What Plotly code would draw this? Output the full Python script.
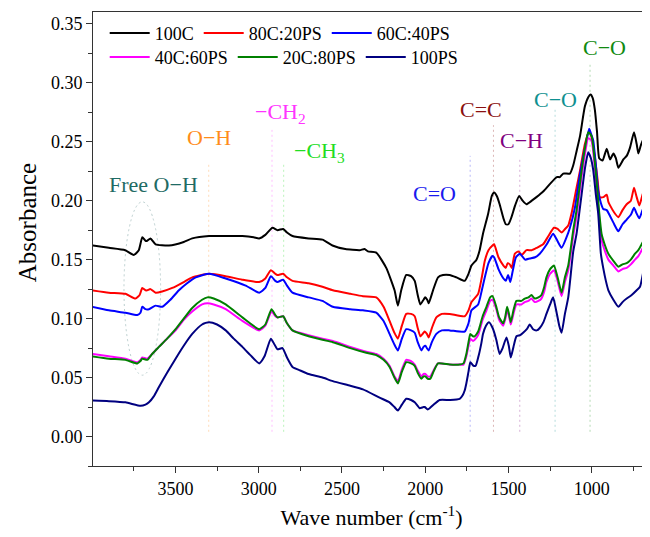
import plotly.graph_objects as go

# ---------------- data ----------------
wn_100C = [4000, 3900, 3802, 3750, 3720, 3699, 3680, 3669, 3650, 3619, 3539, 3450, 3399, 3298, 3200, 3098, 3030, 2997, 2960, 2917, 2887, 2853, 2830, 2797, 2700, 2617, 2557, 2480, 2394, 2364, 2344, 2294, 2234, 2184, 2164, 2144, 2114, 2085, 2063, 2045, 2029, 2010, 2000, 1988, 1979, 1953, 1923, 1893, 1853, 1813, 1763, 1740, 1722, 1692, 1673, 1653, 1622, 1600, 1586, 1570, 1553, 1530, 1516, 1500, 1482, 1460, 1436, 1415, 1392, 1360, 1332, 1290, 1252, 1210, 1191, 1171, 1131, 1111, 1091, 1070, 1041, 1020, 1007, 994, 981, 968, 955, 935, 910, 890, 870, 855, 840, 810, 790, 770, 746, 730, 720, 705, 690, 670, 650]
ab_100C = [0.162, 0.160, 0.158, 0.154, 0.158, 0.169, 0.166, 0.166, 0.168, 0.163, 0.162, 0.165, 0.168, 0.170, 0.170, 0.170, 0.169, 0.168, 0.171, 0.177, 0.175, 0.176, 0.173, 0.170, 0.168, 0.167, 0.162, 0.159, 0.158, 0.159, 0.157, 0.156, 0.143, 0.124, 0.111, 0.124, 0.137, 0.136, 0.132, 0.120, 0.112, 0.116, 0.118, 0.116, 0.113, 0.124, 0.135, 0.137, 0.137, 0.135, 0.132, 0.138, 0.145, 0.150, 0.158, 0.172, 0.189, 0.204, 0.207, 0.204, 0.197, 0.185, 0.180, 0.180, 0.186, 0.196, 0.204, 0.200, 0.197, 0.200, 0.203, 0.208, 0.214, 0.220, 0.220, 0.223, 0.223, 0.230, 0.242, 0.255, 0.280, 0.288, 0.290, 0.287, 0.277, 0.258, 0.236, 0.234, 0.244, 0.235, 0.240, 0.236, 0.228, 0.235, 0.238, 0.245, 0.258, 0.248, 0.240, 0.247, 0.252, 0.250, 0.249]

wn_80C = [4000, 3900, 3800, 3740, 3715, 3699, 3680, 3669, 3650, 3619, 3580, 3519, 3450, 3399, 3298, 3198, 3100, 2997, 2960, 2927, 2900, 2887, 2853, 2830, 2797, 2700, 2617, 2555, 2450, 2374, 2294, 2250, 2214, 2185, 2164, 2140, 2114, 2085, 2063, 2045, 2029, 2010, 2003, 1990, 1979, 1960, 1933, 1900, 1853, 1763, 1740, 1722, 1682, 1660, 1642, 1620, 1596, 1586, 1560, 1530, 1516, 1505, 1492, 1480, 1462, 1440, 1420, 1392, 1360, 1330, 1292, 1260, 1227, 1205, 1181, 1160, 1141, 1120, 1091, 1071, 1041, 1017, 1005, 990, 981, 965, 951, 930, 910, 900, 890, 865, 840, 815, 790, 765, 746, 730, 714, 695, 680, 650]
ab_80C = [0.124, 0.122, 0.121, 0.117, 0.120, 0.126, 0.124, 0.124, 0.125, 0.122, 0.123, 0.126, 0.131, 0.135, 0.138, 0.136, 0.133, 0.131, 0.134, 0.141, 0.138, 0.137, 0.138, 0.135, 0.132, 0.130, 0.127, 0.124, 0.121, 0.119, 0.118, 0.110, 0.098, 0.088, 0.083, 0.094, 0.104, 0.104, 0.102, 0.092, 0.085, 0.088, 0.089, 0.087, 0.084, 0.092, 0.101, 0.104, 0.104, 0.102, 0.107, 0.114, 0.121, 0.135, 0.149, 0.158, 0.162, 0.163, 0.152, 0.145, 0.143, 0.147, 0.146, 0.143, 0.155, 0.157, 0.154, 0.158, 0.158, 0.160, 0.163, 0.170, 0.177, 0.176, 0.173, 0.176, 0.179, 0.190, 0.211, 0.225, 0.248, 0.258, 0.256, 0.245, 0.237, 0.218, 0.203, 0.203, 0.205, 0.199, 0.196, 0.190, 0.186, 0.192, 0.197, 0.200, 0.211, 0.203, 0.196, 0.205, 0.210, 0.211]

wn_60C = [4000, 3900, 3800, 3729, 3710, 3699, 3680, 3659, 3619, 3579, 3530, 3479, 3430, 3378, 3298, 3198, 3078, 2997, 2960, 2927, 2900, 2887, 2853, 2830, 2797, 2700, 2617, 2555, 2450, 2374, 2294, 2250, 2214, 2185, 2164, 2140, 2114, 2085, 2063, 2045, 2023, 2010, 1999, 1990, 1979, 1960, 1933, 1900, 1853, 1763, 1740, 1722, 1682, 1660, 1642, 1620, 1596, 1586, 1560, 1530, 1516, 1502, 1489, 1475, 1455, 1432, 1400, 1372, 1340, 1312, 1270, 1232, 1210, 1181, 1151, 1131, 1101, 1071, 1051, 1030, 1015, 1000, 991, 975, 961, 945, 931, 910, 890, 865, 840, 815, 790, 765, 746, 730, 714, 695, 680, 650]
ab_60C = [0.110, 0.107, 0.105, 0.103, 0.105, 0.110, 0.108, 0.108, 0.111, 0.110, 0.116, 0.124, 0.130, 0.135, 0.138, 0.134, 0.128, 0.122, 0.126, 0.136, 0.132, 0.131, 0.133, 0.128, 0.122, 0.118, 0.115, 0.110, 0.108, 0.107, 0.105, 0.098, 0.087, 0.078, 0.073, 0.083, 0.091, 0.090, 0.088, 0.080, 0.073, 0.076, 0.077, 0.075, 0.073, 0.080, 0.087, 0.090, 0.090, 0.089, 0.096, 0.107, 0.112, 0.124, 0.135, 0.147, 0.153, 0.152, 0.142, 0.134, 0.132, 0.137, 0.131, 0.140, 0.152, 0.155, 0.150, 0.151, 0.152, 0.155, 0.163, 0.172, 0.167, 0.160, 0.169, 0.177, 0.194, 0.222, 0.237, 0.252, 0.261, 0.255, 0.251, 0.230, 0.208, 0.198, 0.193, 0.192, 0.187, 0.180, 0.174, 0.180, 0.184, 0.188, 0.194, 0.189, 0.185, 0.192, 0.197, 0.204]

wn_low = [4000, 3900, 3800, 3729, 3710, 3699, 3669, 3640, 3599, 3550, 3499, 3450, 3399, 3340, 3308, 3270, 3198, 3098, 2997, 2960, 2923, 2900, 2887, 2853, 2830, 2797, 2700, 2617, 2555, 2450, 2354, 2294, 2250, 2214, 2185, 2164, 2140, 2114, 2085, 2063, 2045, 2023, 2010, 1999, 1985, 1969, 1950, 1923, 1853, 1793, 1770, 1753, 1740, 1729, 1713, 1703, 1682, 1673, 1655, 1632, 1610, 1596, 1575, 1556, 1532, 1520, 1508, 1497, 1486, 1470, 1452, 1422, 1402, 1380, 1362, 1342, 1320, 1302, 1285, 1272, 1250, 1227, 1205, 1181, 1161, 1141, 1111, 1091, 1061, 1040, 1021, 1001, 985, 971, 955, 941, 920, 900, 870, 840, 815, 790, 765, 740, 720, 700, 675, 650]
ab_40C = [0.070, 0.068, 0.066, 0.063, 0.065, 0.067, 0.066, 0.070, 0.076, 0.083, 0.090, 0.099, 0.106, 0.112, 0.113, 0.112, 0.108, 0.098, 0.090, 0.094, 0.106, 0.102, 0.101, 0.102, 0.096, 0.090, 0.086, 0.083, 0.081, 0.076, 0.072, 0.070, 0.066, 0.060, 0.051, 0.047, 0.057, 0.065, 0.064, 0.061, 0.056, 0.051, 0.053, 0.053, 0.051, 0.051, 0.056, 0.062, 0.061, 0.061, 0.061, 0.068, 0.077, 0.083, 0.081, 0.082, 0.086, 0.090, 0.099, 0.107, 0.115, 0.116, 0.109, 0.099, 0.094, 0.099, 0.107, 0.102, 0.095, 0.104, 0.112, 0.112, 0.114, 0.115, 0.117, 0.114, 0.115, 0.117, 0.123, 0.131, 0.138, 0.141, 0.132, 0.119, 0.131, 0.141, 0.170, 0.187, 0.220, 0.240, 0.253, 0.251, 0.233, 0.212, 0.185, 0.167, 0.157, 0.150, 0.145, 0.140, 0.142, 0.143, 0.146, 0.150, 0.153, 0.158, 0.165, 0.176]
ab_20C = [0.068, 0.066, 0.065, 0.062, 0.064, 0.066, 0.065, 0.070, 0.076, 0.083, 0.091, 0.100, 0.109, 0.116, 0.118, 0.117, 0.112, 0.101, 0.091, 0.095, 0.108, 0.103, 0.101, 0.102, 0.096, 0.090, 0.085, 0.082, 0.080, 0.075, 0.071, 0.069, 0.065, 0.059, 0.050, 0.045, 0.055, 0.063, 0.062, 0.060, 0.054, 0.049, 0.051, 0.051, 0.049, 0.049, 0.055, 0.062, 0.061, 0.061, 0.062, 0.070, 0.080, 0.087, 0.085, 0.085, 0.089, 0.093, 0.102, 0.110, 0.118, 0.119, 0.111, 0.101, 0.096, 0.101, 0.110, 0.104, 0.097, 0.107, 0.115, 0.115, 0.117, 0.118, 0.120, 0.117, 0.118, 0.120, 0.127, 0.135, 0.142, 0.145, 0.135, 0.122, 0.135, 0.145, 0.175, 0.192, 0.225, 0.245, 0.258, 0.255, 0.238, 0.217, 0.190, 0.172, 0.162, 0.155, 0.149, 0.144, 0.146, 0.147, 0.150, 0.155, 0.158, 0.163, 0.170, 0.182]

wn_100PS = [4000, 3900, 3800, 3709, 3680, 3659, 3630, 3599, 3550, 3499, 3450, 3399, 3340, 3298, 3250, 3198, 3150, 3098, 3050, 2997, 2965, 2927, 2905, 2887, 2857, 2830, 2797, 2750, 2700, 2617, 2555, 2450, 2374, 2274, 2214, 2185, 2164, 2140, 2114, 2085, 2063, 2045, 2033, 2010, 2003, 1985, 1973, 1950, 1913, 1850, 1793, 1775, 1763, 1753, 1740, 1729, 1710, 1697, 1680, 1663, 1653, 1635, 1617, 1595, 1573, 1553, 1535, 1512, 1498, 1486, 1470, 1452, 1430, 1412, 1390, 1372, 1352, 1330, 1312, 1290, 1272, 1250, 1232, 1215, 1195, 1181, 1161, 1141, 1111, 1091, 1061, 1040, 1021, 1005, 991, 975, 961, 945, 931, 915, 900, 870, 840, 815, 790, 760, 730, 710, 690, 670, 650]
ab_100PS = [0.0305, 0.030, 0.029, 0.026, 0.027, 0.029, 0.034, 0.042, 0.054, 0.066, 0.077, 0.087, 0.095, 0.097, 0.095, 0.090, 0.083, 0.076, 0.069, 0.062, 0.068, 0.083, 0.078, 0.074, 0.075, 0.067, 0.059, 0.056, 0.053, 0.050, 0.047, 0.043, 0.040, 0.033, 0.029, 0.025, 0.022, 0.027, 0.032, 0.031, 0.029, 0.026, 0.024, 0.025, 0.025, 0.023, 0.024, 0.027, 0.031, 0.031, 0.032, 0.035, 0.039, 0.045, 0.055, 0.063, 0.060, 0.060, 0.068, 0.079, 0.087, 0.094, 0.097, 0.092, 0.082, 0.070, 0.075, 0.084, 0.077, 0.067, 0.076, 0.085, 0.086, 0.088, 0.091, 0.095, 0.091, 0.090, 0.092, 0.097, 0.104, 0.112, 0.118, 0.108, 0.094, 0.088, 0.104, 0.118, 0.157, 0.172, 0.205, 0.228, 0.241, 0.236, 0.226, 0.205, 0.189, 0.155, 0.143, 0.132, 0.124, 0.116, 0.110, 0.114, 0.117, 0.120, 0.124, 0.127, 0.140, 0.155, 0.177]

series_names = ["100C", "80C:20PS", "60C:40PS", "40C:60PS", "20C:80PS", "100PS"]
series_x = [wn_100C, wn_80C, wn_60C, wn_low, wn_low, wn_100PS]
series_y = [ab_100C, ab_80C, ab_60C, ab_40C, ab_20C, ab_100PS]
series_colors = ["#000000", "#ff0000", "#0000ff", "#ff00ff", "#008000", "#000080"]

# band annotations
band_labels = ["Free O\u2212H", "O\u2212H", "\u2212CH<sub>2</sub>", "\u2212CH<sub>3</sub>", "C=O", "C=C", "C\u2212H", "C\u2212O", "C\u2212O"]
band_label_x = [3629, 3298, 2869, 2635, 1943, 1663, 1422, 1215, 921]
band_label_y = [0.214, 0.254, 0.274, 0.241, 0.206, 0.277, 0.251, 0.286, 0.330]
band_colors = ["#1f6b64", "#ff8c1a", "#ff33ff", "#22dd22", "#1a1aee", "#8b1010", "#800080", "#0f9090", "#108a10"]
band_line_x = [None, 3300, 2920, 2850, 1730, 1590, 1432, 1220, 1010]
band_line_top = [None, 0.232, 0.260, 0.232, 0.238, 0.264, 0.237, 0.278, 0.316]
band_line_bottom = 0.004
free_oh_box = [3809, 3589, 0.052, 0.199]

FONT = "Liberation Serif"

fig = go.Figure()
for i, (nm, xs, ys, c) in enumerate(zip(series_names, series_x, series_y, series_colors)):
    fig.add_trace(go.Scatter(x=xs, y=ys, name=nm, mode="lines",
                             line=dict(color=c, width=2, shape="spline", smoothing=0.5),
                             legend="legend" if i < 3 else "legend2"))

for lx, top, c in zip(band_line_x, band_line_top, band_colors):
    if lx is None:
        continue
    fig.add_shape(type="line", x0=lx, x1=lx, y0=band_line_bottom, y1=top,
                  line=dict(color=c, width=1, dash="2px,3px"), opacity=0.3, layer="below")

fig.add_shape(type="circle", x0=free_oh_box[0], x1=free_oh_box[1], y0=free_oh_box[2], y1=free_oh_box[3],
              line=dict(color="#8fb0b0", width=1, dash="2px,3px"), opacity=0.6, layer="below")

for t, x, y, c in zip(band_labels, band_label_x, band_label_y, band_colors):
    fig.add_annotation(x=x, y=y, text=t, showarrow=False, font=dict(family=FONT, size=22, color=c),
                       xanchor="center", yanchor="middle")

# y-axis title placed as annotation (sits slightly above the axis centre in the reference)
fig.add_annotation(xref="paper", yref="paper", x=-0.1185, y=0.537, text="Absorbance", textangle=-90,
                   showarrow=False, xanchor="center", yanchor="middle",
                   font=dict(family=FONT, size=25, color="#000"))

axis_common = dict(showline=True, linecolor="#333333", linewidth=1, ticks="outside", ticklen=6,
                   tickcolor="#333333", tickfont=dict(family=FONT, size=18, color="#000"),
                   showgrid=False, zeroline=False, automargin=False)

# page body has an 8 px margin, so margins are offset by 8 px
fig.update_layout(
    width=650, height=537,
    margin=dict(l=85, r=8, t=4, b=79, autoexpand=False),
    paper_bgcolor="white", plot_bgcolor="white",
    font=dict(family=FONT, size=18, color="#000"),
    xaxis=dict(range=[3995, 650], tick0=1000, dtick=500, mirror=True,
               minor=dict(dtick=250, ticks="outside", ticklen=4, tickcolor="#333333"),
               title=dict(text="Wave number (cm<sup>-1</sup>)", font=dict(family=FONT, size=22), standoff=12),
               **axis_common),
    yaxis=dict(range=[-0.025, 0.36], tick0=0, dtick=0.05, tickformat=".2f",
               minor=dict(dtick=0.025, ticks="outside", ticklen=4, tickcolor="#333333"),
               **axis_common),
    legend=dict(orientation="h", x=0.021, y=0.994, xanchor="left", yanchor="top",
                bgcolor="rgba(0,0,0,0)", font=dict(family=FONT, size=18), itemwidth=40,
                tracegroupgap=0),
    legend2=dict(orientation="h", x=0.021, y=0.941, xanchor="left", yanchor="top",
                 bgcolor="rgba(0,0,0,0)", font=dict(family=FONT, size=18), itemwidth=40,
                 tracegroupgap=0),
)

fig.write_html("out.html")
